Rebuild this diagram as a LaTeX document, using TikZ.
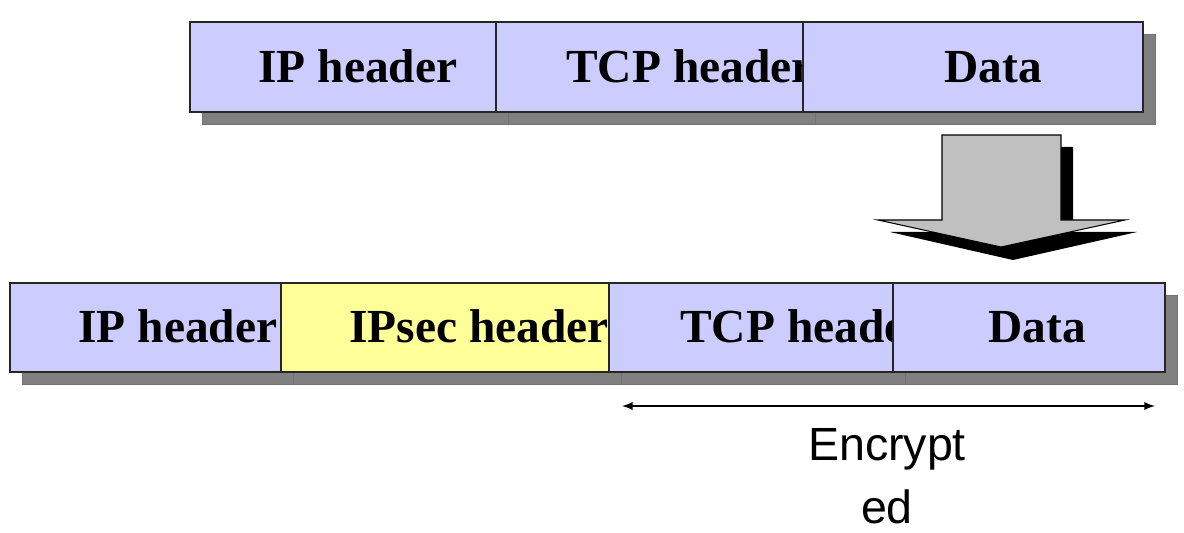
\documentclass[tikz,border=0pt]{standalone}
\usepackage{fontspec}
\setmainfont{Liberation Serif}
\newfontfamily\encfont{Liberation Sans}
\usetikzlibrary{arrows}
\usetikzlibrary{math}

\definecolor{hdrblue}{HTML}{CCCCFF}
\definecolor{hdryellow}{HTML}{FFFF99}
\definecolor{shadowgray}{HTML}{808080}
\definecolor{arrowgray}{HTML}{C0C0C0}

\tikzset{
  shadowbox/.style={fill=shadowgray, draw=black!55, line width=0.5pt},
  pktbox/.style={draw=black!85, line width=0.6pt},
  hdrlabel/.style={font=\fontsize{27}{30}\selectfont\bfseries, inner sep=0pt, anchor=base west},
  enclabel/.style={font=\encfont\fontsize{26.5}{35.5}\selectfont, inner sep=0pt, align=center, anchor=base},
}

\begin{document}
\begin{tikzpicture}[x=0.02cm,y=-0.02cm]
\useasboundingbox (0,0) rectangle (1184,533);
\tikzmath{
\sh=12;
\ta=22; \tb=112;
\ba=283; \bb=372;
}

%original packet
\foreach \nm/\xa/\xb/\col/\txt/\tx in {ipA/190/496/hdrblue/IP header/258,
    tcpA/496/803/hdrblue/TCP header/566,
    dataA/803/1143/hdrblue/Data/944}{
  \draw[shadowbox] (\xa+\sh,\ta+\sh) rectangle (\xb+\sh,\tb+\sh);
  \fill[\col] (\xa,\ta) rectangle (\xb,\tb);
  \begin{scope}
    \clip (\xa,\ta) rectangle (\xb,\tb);
    \node[hdrlabel] (\nm) at (\tx,\tb-29) {\txt};
  \end{scope}
  \draw[pktbox] (\xa,\ta) rectangle (\xb,\tb);
}

%block arrow
\fill[black] (954,147) -- (1073,147) -- (1073,232) -- (1137,232) -- (1013,260)
  -- (890,232) -- (954,232) -- cycle;
\filldraw[fill=arrowgray, draw=black, line width=0.6pt] (942,135) -- (1061,135)
  -- (1061,220) -- (1125,220) -- (1001,247) -- (878,220) -- (942,220) -- cycle;

%packet with ipsec
\foreach \nm/\xa/\xb/\col/\txt/\tx in {ipB/10/281/hdrblue/IP header/78,
    ipsecB/281/609/hdryellow/IPsec header/349,
    tcpB/609/893/hdrblue/TCP header/680,
    dataB/893/1165/hdrblue/Data/988}{
  \draw[shadowbox] (\xa+\sh,\ba+\sh) rectangle (\xb+\sh,\bb+\sh);
  \fill[\col] (\xa,\ba) rectangle (\xb,\bb);
  \begin{scope}
    \clip (\xa,\ba) rectangle (\xb,\bb);
    \node[hdrlabel] (\nm) at (\tx,\bb-29) {\txt};
  \end{scope}
  \draw[pktbox] (\xa,\ba) rectangle (\xb,\bb);
}

%encrypted part
\coordinate (encL) at (622,406);
\coordinate (encR) at (1155,406);
\draw[latex-latex, line width=1.1pt] (encL) -- (encR);
\node[enclabel] (encTxt) at (887,523) {Encrypt\\ed};
\end{tikzpicture}
\end{document}
